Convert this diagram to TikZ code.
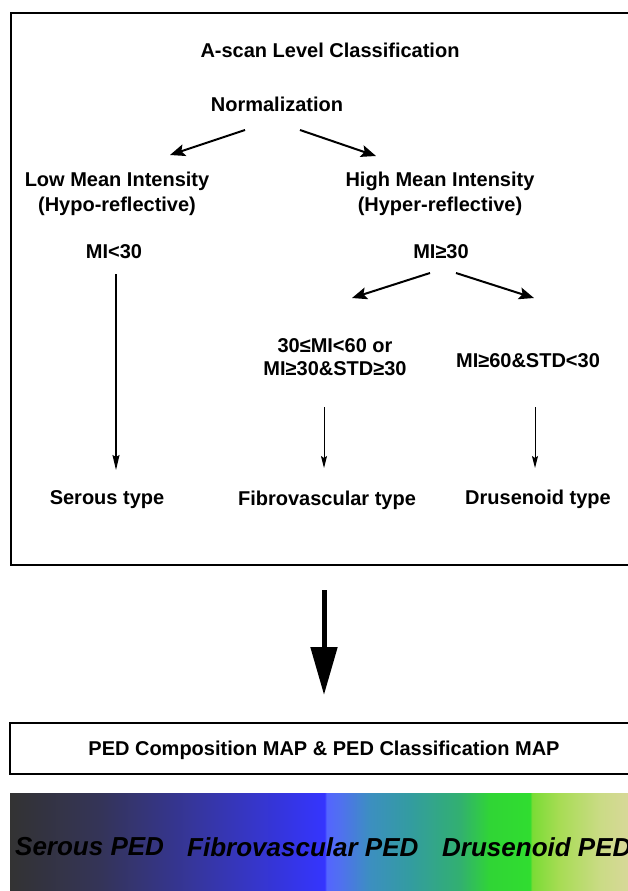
\documentclass[tikz,border=0pt]{standalone}
\usepackage{fontspec}
\setmainfont{Liberation Sans}
\usetikzlibrary{arrows.meta,calc}
\definecolor{c0}{HTML}{333333}
\definecolor{c1}{HTML}{343458}
\definecolor{c2}{HTML}{3636A8}
\definecolor{c3}{HTML}{3535FF}
\definecolor{c4}{HTML}{5464FF}
\definecolor{c5}{HTML}{5070F0}
\definecolor{c6}{HTML}{3C8FC0}
\definecolor{c7}{HTML}{339CA0}
\definecolor{c8}{HTML}{32B070}
\definecolor{c9}{HTML}{30D535}
\definecolor{c10}{HTML}{30DD30}
\definecolor{c11}{HTML}{7ADC35}
\definecolor{c12}{HTML}{A8DC55}
\definecolor{c13}{HTML}{CADB85}
\definecolor{c14}{HTML}{D8D898}
\pgfdeclarehorizontalshading{pedbar}{100bp}{color(0bp)=(c0); color(25bp)=(c0); color(32.28bp)=(c1); color(41.18bp)=(c2); color(50.49bp)=(c3); color(50.57bp)=(c4); color(51.70bp)=(c5); color(54.13bp)=(c6); color(57.36bp)=(c7); color(61.41bp)=(c8); color(63.83bp)=(c9); color(67.07bp)=(c10); color(67.23bp)=(c11); color(69.50bp)=(c12); color(72.73bp)=(c13); color(75bp)=(c14); color(100bp)=(c14)}
\tikzset{
  lbl/.style={font=\fontsize{20}{25}\selectfont\bfseries, inner sep=0pt, align=center},
  barlbl/.style={font=\fontsize{26}{30}\selectfont\bfseries\itshape, inner sep=0pt, anchor=west},
  frame/.style={line width=2.2pt, draw=black},
  bigarr/.style={-{Stealth[length=15pt,width=12pt,inset=3pt]}, line width=2pt},
  longarr/.style={-{Stealth[length=15pt,width=7pt,inset=2pt]}, line width=1.4pt},
  smallarr/.style={-{Stealth[length=12pt,width=6pt,inset=2pt]}, line width=1pt},
  flowarr/.style={-{Triangle[length=48pt,width=26pt]}, line width=5pt}
}
\begin{document}
\begin{tikzpicture}[x=1pt,y=-1pt]
\useasboundingbox (0,0) rectangle (628,891);
\clip (0,0) rectangle (628,891);
% frames
\draw[frame] (11,13) rectangle (645,565);
\draw[frame] (10,723) rectangle (645,774);
\coordinate (b1) at (324,565);
\coordinate (b2) at (324,723);
% texts
\node[lbl] (title) at (330,50) {A-scan Level Classification};
\node[lbl] (norm) at (277,104) {Normalization};
\node[lbl] (low) at (117,193.5) {Low Mean Intensity\\(Hypo-reflective)};
\node[lbl] (high) at (440,193.5) {High Mean Intensity\\(Hyper-reflective)};
\node[lbl] (milow) at (114,252) {MI<30};
\node[lbl] (mihigh) at (441,252) {MI≥30};
\node[lbl, font=\fontsize{20}{23}\selectfont\bfseries] (fcond) at (335,357.5) {30≤MI<60 or\\MI≥30\&STD≥30};
\node[lbl] (dcond) at (528,361) {MI≥60\&STD<30};
\node[lbl] (serous) at (107,500) {Serous type};
\node[lbl] (fibro) at (327,500) {Fibrovascular type};
\node[lbl] (drusen) at (538,499) {Drusenoid type};
\node[lbl] (map) at (324,750) {PED Composition MAP \& PED Classification MAP};
% arrows
\draw[bigarr] ($(norm)+(-32,26)$) -- ($(low)+(53,-38.5)$);
\draw[bigarr] ($(norm)+(23,26)$) -- ($(high)+(-64,-37.5)$);
\draw[bigarr] ($(mihigh)+(-11,21)$) -- ($(fcond)+(17,-59.5)$);
\draw[bigarr] ($(mihigh)+(15,21)$) -- ($(dcond)+(6,-63)$);
\draw[longarr] ($(milow)+(2,22)$) -- ($(serous)+(9,-30)$);
\draw[smallarr] ($(fcond)+(-11,49.5)$) -- ($(fibro)+(-3,-32)$);
\draw[smallarr] ($(dcond)+(7,46)$) -- ($(drusen)+(-3,-31)$);
\draw[flowarr] ($(b1)+(0,25)$) -- ($(b2)+(0,-28)$);
% colour bar
\shade[shading=pedbar] (10,793) rectangle (628,891);
\node[barlbl] (s1) at (15,847) {Serous PED};
\node[barlbl] (s2) at (187,847) {Fibrovascular PED};
\node[barlbl] (s3) at (442,847) {Drusenoid PED};
\end{tikzpicture}
\end{document}
